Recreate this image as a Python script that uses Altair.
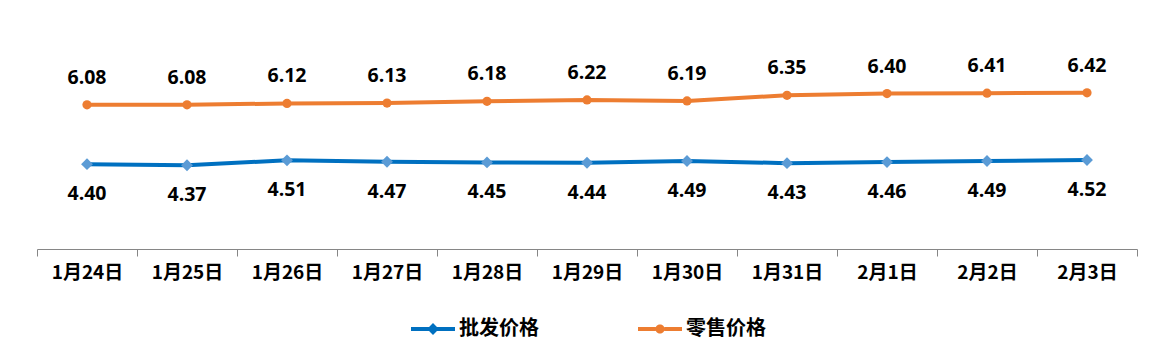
import altair as alt
import pandas as pd

dates = ["1月24日", "1月25日", "1月26日", "1月27日", "1月28日", "1月29日",
         "1月30日", "1月31日", "2月1日", "2月2日", "2月3日"]
wholesale = [4.40, 4.37, 4.51, 4.47, 4.45, 4.44, 4.49, 4.43, 4.46, 4.49, 4.52]
retail = [6.08, 6.08, 6.12, 6.13, 6.18, 6.22, 6.19, 6.35, 6.40, 6.41, 6.42]
series_names = ["批发价格", "零售价格"]

rows = []
for d, v in zip(dates, wholesale):
    rows.append({"date": d, "value": v, "series": series_names[0]})
for d, v in zip(dates, retail):
    rows.append({"date": d, "value": v, "series": series_names[1]})
df = pd.DataFrame(rows)

BLUE = "#0070C0"
BLUE_M = "#5B9BD5"
ORANGE = "#ED7D31"
CJK = "Noto Sans CJK SC"
NUM = "Open Sans"

x = alt.X("date:N", sort=dates, bandPosition=0.5,
          scale=alt.Scale(type="band", paddingInner=0, paddingOuter=0),
          axis=alt.Axis(title=None, labelAngle=0, tickBand="extent",
                        domainColor="#868686", tickColor="#868686", tickSize=7,
                        labelFont=CJK, labelFontSize=19, labelFontWeight="bold",
                        labelColor="#000000", labelPadding=7, grid=False))
y = alt.Y("value:Q", scale=alt.Scale(domain=[2, 8]), axis=None)
color_scale = alt.Scale(domain=series_names, range=[BLUE, ORANGE])

base = alt.Chart(df)
w = base.transform_filter(alt.datum.series == series_names[0])
r = base.transform_filter(alt.datum.series == series_names[1])

line_w = w.mark_line(strokeWidth=4, color=BLUE).encode(x=x, y=y)
line_r = r.mark_line(strokeWidth=4, color=ORANGE).encode(x=x, y=y)

pts_w = w.mark_point(shape="diamond", filled=True, size=140, color=BLUE_M,
                     opacity=1).encode(x=x, y=y)
pts_r = r.mark_point(shape="circle", filled=True, size=85, color=ORANGE,
                     opacity=1).encode(x=x, y=y)

lab_w = w.mark_text(dy=30, font=NUM, fontSize=19.5, fontWeight="bold",
                    color="#000000").encode(
    x=x, y=y, text=alt.Text("value:Q", format=".2f"))
lab_r = r.mark_text(dy=-27, font=NUM, fontSize=19.5, fontWeight="bold",
                    color="#000000").encode(
    x=x, y=y, text=alt.Text("value:Q", format=".2f"))

bar = "M-1,-0.09L-0.2,-0.09L-0.2,0.09L-1,0.09Z M0.2,-0.09L1,-0.09L1,0.09L0.2,0.09Z"
diamond = "M0,-0.27L0.27,0L0,0.27L-0.27,0Z"
circle = "M-0.21,0A0.21,0.21,0,1,1,0.21,0A0.21,0.21,0,1,1,-0.21,0Z"
bar_d = "M-1,-0.09L-0.15,-0.09L-0.15,0.09L-1,0.09Z M0.15,-0.09L1,-0.09L1,0.09L0.15,0.09Z"

leg = alt.Legend(orient="none", legendX=374, legendY=270,
                 direction="horizontal", symbolSize=1936,
                 symbolStrokeWidth=0, labelFont=CJK,
                 labelFontSize=20, labelFontWeight="bold",
                 labelColor="#000000", labelOffset=4,
                 columnPadding=99, title=None)

legend_layer = base.mark_point(filled=True, opacity=1, size=0).encode(
    x=x, y=y,
    color=alt.Color("series:N", scale=color_scale, title=None, legend=leg),
    shape=alt.Shape("series:N", title=None,
                    scale=alt.Scale(domain=series_names,
                                    range=[bar_d + " " + diamond, bar + " " + circle]),
                    legend=leg),
)

chart = alt.layer(line_w, line_r, pts_w, pts_r, lab_w, lab_r, legend_layer).properties(
    width=1100, height=212,
    autosize=alt.AutoSizeParams(type="none"),
    padding={"left": 29, "top": 29, "right": 20, "bottom": 110},
).configure_view(stroke=None)

chart.save("out.html", embed_options={"renderer": "svg", "actions": False})
